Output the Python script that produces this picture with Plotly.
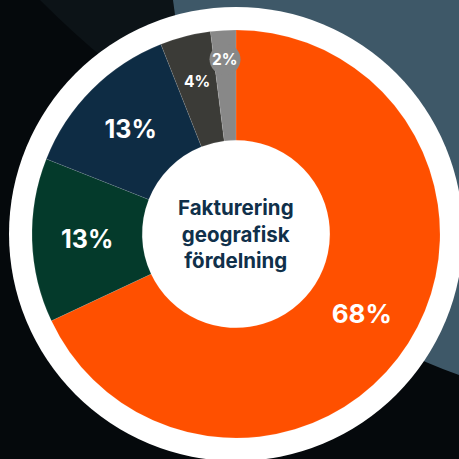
import math

import plotly.graph_objects as go

# Share of invoicing per region (%), clockwise from 12 o'clock
regions = ["Region A", "Region B", "Region C", "Region D", "Region E"]
shares = [68, 13, 13, 4, 2]
colors = ["#FF5000", "#043A2B", "#0E2C44", "#3B3B37", "#888888"]
center_title = "Fakturering<br>geografisk<br>fördelning"

W = H = 459
CX, CY = 236, 234  # donut center in px (from top-left)
R = 204  # donut outer radius px
RING = 227  # white ring radius px
HOLE = 0.46
N_INSIDE = 3  # slices labelled by the pie itself, the rest get annotations
label_sizes = [26, 25, 25]
small_radius = [157, 175]  # px from center for the small-slice labels
BR = 15.5  # bubble radius behind the smallest label


def px_x(x):
    return x / W


def px_y(y):
    return 1 - y / H


total = sum(shares)
pct_text = [f"{round(v / total * 100)}%" for v in shares]
slice_text = pct_text[:N_INSIDE] + [""] * (len(shares) - N_INSIDE)

fig = go.Figure(
    go.Pie(
        labels=regions,
        values=shares,
        text=slice_text,
        sort=False,
        direction="clockwise",
        rotation=0,
        hole=HOLE,
        marker=dict(colors=colors, line=dict(width=0.4, color="rgba(255,255,255,0.25)")),
        texttemplate="%{text}",
        textposition="inside",
        insidetextorientation="horizontal",
        textfont=dict(family="Inter", size=label_sizes + [10, 10], color="white", weight="bold"),
        hoverinfo="label+percent",
        showlegend=False,
        domain=dict(x=[px_x(CX - R), px_x(CX + R)], y=[px_y(CY + R), px_y(CY - R)]),
    )
)

# positions of the small-slice labels from their mid angles
small_pos = []
cum = sum(shares[:N_INSIDE])
for v, r in zip(shares[N_INSIDE:], small_radius):
    a = (cum + v / 2) / total * 2 * math.pi
    small_pos.append((CX + r * math.sin(a), CY - r * math.cos(a)))
    cum += v
bx, by = small_pos[-1]

annotations = [
    dict(text=center_title, x=px_x(CX), y=px_y(CY), xref="paper", yref="paper",
         xanchor="center", yanchor="middle", showarrow=False,
         font=dict(family="Inter", size=20.5, color="#10304A", weight="bold")),
]
for txt, (x, y) in zip(pct_text[N_INSIDE:], small_pos):
    annotations.append(
        dict(text=txt, x=px_x(x), y=px_y(y), xref="paper", yref="paper",
             xanchor="center", yanchor="middle", showarrow=False,
             font=dict(family="Inter", size=15.5, color="white", weight="bold"))
    )

fig.update_layout(
    width=W,
    height=H,
    margin=dict(l=0, r=0, t=0, b=0),
    paper_bgcolor="#05090C",
    plot_bgcolor="#05090C",
    shapes=[
        # faint light in the top-left backdrop
        dict(type="path",
             path=f"M {px_x(40)},1 L {px_x(175)},1 L {px_x(175)},{px_y(110)} Q {px_x(110)},{px_y(70)} {px_x(40)},1 Z",
             xref="paper", yref="paper", fillcolor="#0C1317", line_width=0, layer="below"),
        # slate backdrop in the upper right
        dict(type="path",
             path=f"M {px_x(173)},1 L 1,1 L 1,{px_y(375)} Q {px_x(330)},{px_y(330)} {px_x(200)},{px_y(200)} Z",
             xref="paper", yref="paper", fillcolor="#3E5868", line_width=0, layer="below"),
        dict(type="circle", xref="paper", yref="paper",
             x0=px_x(CX - RING), x1=px_x(CX + RING), y0=px_y(CY + RING), y1=px_y(CY - RING),
             fillcolor="white", line_width=0, layer="below"),
        dict(type="circle", xref="paper", yref="paper",
             x0=px_x(bx - BR), x1=px_x(bx + BR), y0=px_y(by + BR), y1=px_y(by - BR),
             fillcolor=colors[-1], line_width=0, layer="above"),
    ],
    annotations=annotations,
)

fig.write_html("out.html", config={"displayModeBar": False},
               post_script="document.body.style.margin='0';")
